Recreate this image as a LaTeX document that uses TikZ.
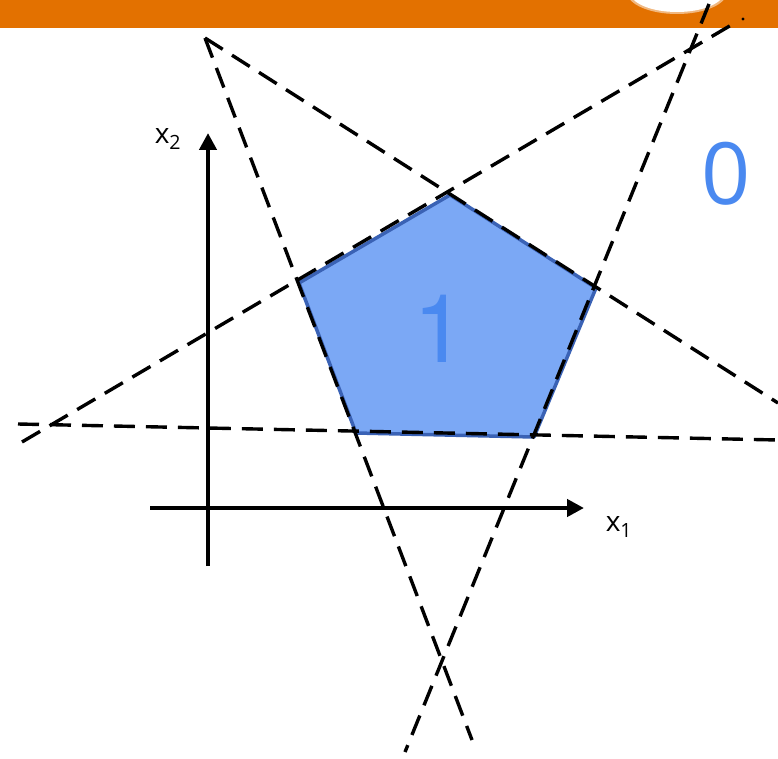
\documentclass[tikz,border=0pt]{standalone}
\usepackage{fontspec}
\setmainfont{Open Sans}
\newfontfamily\numfont{TeX Gyre Heros}
\usetikzlibrary{arrows.meta}
\definecolor{barorange}{HTML}{E37100}
\definecolor{polyfill}{HTML}{7BA8F5}
\definecolor{polyedge}{HTML}{3A62B5}
\definecolor{numblue}{HTML}{4A89F0}
\tikzset{
  extline/.style={draw=black,line width=3.4pt,dash pattern=on 21pt off 11pt},
  axisline/.style={draw=black,line width=4.8pt,-{Triangle[length=17pt,width=17pt]}},
  axislabel/.style={font=\fontsize{28}{30}\selectfont,inner sep=0pt},
  bignum/.style={text=numblue,inner sep=0pt}
}
\begin{document}
\begin{tikzpicture}[x=1pt,y=-1pt]
\useasboundingbox (0,0) rectangle (778,759);
\fill[white] (0,0) rectangle (778,759);
% top bar
\fill[barorange] (0,0) rectangle (778,28);
\fill[white,opacity=0.5] (677,-8) ellipse [x radius=50, y radius=22];
\fill[white] (677,-8) ellipse [x radius=47, y radius=20];
% pentagon
\coordinate (pT) at (450,195);
\coordinate (pR) at (596,288);
\coordinate (pBR) at (534,437);
\coordinate (pBL) at (356,433);
\coordinate (pL) at (299,283);
\filldraw[fill=polyfill,draw=polyedge,line width=3.5pt,line join=round] (pT) -- (pR) -- (pBR) -- (pBL) -- (pL) -- cycle;
% extended lines
\coordinate (a1) at (22,442); \coordinate (a2) at (733,24);
\coordinate (b1) at (205,38); \coordinate (b2) at (778,403);
\coordinate (c1) at (709,4); \coordinate (c2) at (405,752);
\coordinate (d1) at (205,38); \coordinate (d2) at (472,740);
\coordinate (e1) at (18,424); \coordinate (e2) at (778,440);
\draw[extline] (a1) -- (a2);
\draw[extline] (b1) -- (b2);
\draw[extline] (c1) -- (c2);
\draw[extline] (d1) -- (d2);
\draw[extline] (e1) -- (e2);
\fill[black] (743,19) circle (1.6);
% axes
\coordinate (v0) at (208,566); \coordinate (v1) at (208,133);
\coordinate (h0) at (150,508); \coordinate (h1) at (584,508);
\draw[axisline] (v0) -- (v1);
\draw[axisline] (h0) -- (h1);
\node[axislabel] (lx2) at (168,139) {x\textsubscript{2}};
\node[axislabel] (lx1) at (619,527) {x\textsubscript{1}};
% numbers
\node[bignum,font=\numfont\fontsize{95}{100}\selectfont] (n1) at (440,329) {1};
\node[bignum,font=\fontsize{86}{95}\selectfont] (n0) at (726,174) {0};
\end{tikzpicture}
\end{document}
